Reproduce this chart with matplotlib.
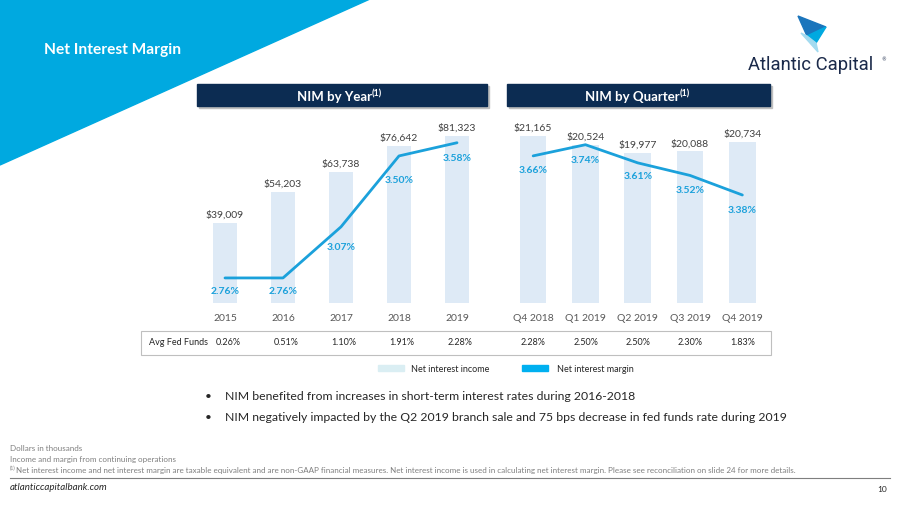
import matplotlib.pyplot as plt
from matplotlib.patches import Polygon, Rectangle

# data
years = ["2015", "2016", "2017", "2018", "2019"]
year_nii = [39009, 54203, 63738, 76642, 81323]
year_nim = [2.76, 2.76, 3.07, 3.50, 3.58]
quarters = ["Q4 2018", "Q1 2019", "Q2 2019", "Q3 2019", "Q4 2019"]
qtr_nii = [21165, 20524, 19977, 20088, 20734]
qtr_nim = [3.66, 3.74, 3.61, 3.52, 3.38]
fed_year = ["0.26%", "0.51%", "1.10%", "1.91%", "2.28%"]
fed_qtr = ["2.28%", "2.50%", "2.50%", "2.30%", "1.83%"]

W, H = 900, 506
plt.rcParams['font.family'] = ['Lato', 'DejaVu Sans']

bar_c = "#DEEAF6"
line_c = "#1BA1DB"
navy = "#0C2C52"
cyan = "#00A9E0"
txt = "#404040"


def fx(x):
    return x / W


def fy(y):
    return 1 - y / H


fig = plt.figure(figsize=(9, 5.06), dpi=100)

# background triangle
fig.patches.append(Polygon([(0, 1), (fx(370), 1), (0, fy(166))], closed=True,
                           transform=fig.transFigure, color=cyan, zorder=0))
fig.text(fx(44), fy(50), "Net Interest Margin", color="white", fontsize=11.2,
         fontweight="bold", va="center", ha="left")

# logo
logo = [
    ([(798, 17), (826, 28), (807, 37)], "#1B75BC"),
    ([(807, 37), (826, 28), (816, 44)], "#00A9E0"),
    ([(801, 34), (807, 37), (816, 44), (818, 53)], "#A3DBF0"),
]
for pts, c in logo:
    fig.patches.append(Polygon([(fx(a), fy(b)) for a, b in pts], closed=True,
                               transform=fig.transFigure, color=c))
fig.text(fx(748), fy(65), "Atlantic Capital", family=["Roboto", "DejaVu Sans"],
         fontsize=13.3, color="#1B2A4A", ha="left", va="center")
fig.text(fx(881), fy(60), "®", family="DejaVu Sans", fontsize=3.5, color="#1B2A4A",
         ha="left", va="center")

# header bars
for x0, x1, label, xs in [(197, 487, "NIM by Year", 372), (507, 770, "NIM by Quarter", 680)]:
    fig.patches.append(Rectangle((fx(x0 + 2), fy(109)), fx(x1 - x0), 22 / H,
                                 transform=fig.transFigure, color="#BFBFBF", zorder=1))
    fig.patches.append(Rectangle((fx(x0), fy(107)), fx(x1 - x0), 22 / H,
                                 transform=fig.transFigure, color=navy, zorder=2))
    fig.text(fx(xs), fy(97), label, color="white", fontsize=9.5, fontweight="bold",
             ha="right", va="center", zorder=3)
    fig.text(fx(xs), fy(94), "(1)", color="white", fontsize=6.5, fontweight="bold",
             ha="left", va="center", zorder=3)


def chart(left, width, cats, nii, nim, ylo, yhi, mlo, mhi, bw, pct_off):
    ax = fig.add_axes([fx(left), fy(304), fx(width), (304 - 120) / H])
    x = range(len(cats))
    ax.bar(x, nii, width=bw, color=bar_c, zorder=1)
    ax.set_xlim(-0.5, len(cats) - 0.5)
    ax.set_ylim(ylo, yhi)
    for i, v in enumerate(nii):
        ax.annotate(f"${v:,}", (i, v), xytext=(0, 3), textcoords="offset points",
                    ha="center", va="bottom", fontsize=7.5, color=txt)
    ax.set_xticks(list(x))
    ax.set_xticklabels(cats, fontsize=7.5, color="#595959")
    ax.tick_params(length=0, pad=7)
    ax.set_yticks([])
    for s in ax.spines.values():
        s.set_visible(False)
    ax2 = ax.twinx()
    ax2.plot(list(x), nim, color=line_c, lw=2, solid_capstyle="round", zorder=3)
    ax2.set_ylim(mlo, mhi)
    ax2.set_yticks([])
    for s in ax2.spines.values():
        s.set_visible(False)
    for i, v in enumerate(nim):
        ax2.annotate(f"{v:.2f}%", (i, v), xytext=(0, -pct_off[i] * 0.72),
                     textcoords="offset points", ha="center", va="center",
                     fontsize=7.5, fontweight="bold", color=line_c)
    ax.patch.set_alpha(0)
    return ax


chart(196, 290, years, year_nii, year_nim, 0, 89756, 2.608, 3.724, 0.43,
      [13, 13, 20, 24, 15])
chart(507, 261.5, quarters, qtr_nii, qtr_nim, 9675, 22312, 2.607, 3.924, 0.51,
      [14, 15, 13, 14, 14])

# fed funds table
fig.patches.append(Rectangle((fx(141), fy(356)), fx(771 - 141), 24 / H,
                             transform=fig.transFigure, fill=False, ec="#BFBFBF", lw=0.8))
fig.text(fx(149), fy(343), "Avg Fed Funds", fontsize=6.5, color="#262626", va="center")
for i, v in enumerate(fed_year):
    fig.text(fx(225 + 58 * i + 3), fy(343), v, fontsize=6.5, color="#262626",
             ha="center", va="center")
for i, v in enumerate(fed_qtr):
    fig.text(fx(533.3 + 52.3 * i), fy(343), v, fontsize=6.5, color="#262626",
             ha="center", va="center")

# legend
fig.patches.append(Rectangle((fx(378), fy(372)), fx(26), 6 / H,
                             transform=fig.transFigure, color="#DAEEF3"))
fig.text(fx(411), fy(369), "Net interest income", fontsize=6.5, color="#262626", va="center")
fig.patches.append(Rectangle((fx(522), fy(372)), fx(26), 6 / H,
                             transform=fig.transFigure, color="#00B0F0"))
fig.text(fx(557), fy(369), "Net interest margin", fontsize=6.5, color="#262626", va="center")

# bullets
bullets = [
    "NIM benefited from increases in short-term interest rates during 2016-2018",
    "NIM negatively impacted by the Q2 2019 branch sale and 75 bps decrease in fed funds rate during 2019",
]
for k, b in enumerate(bullets):
    y = 397 + 21 * k
    fig.text(fx(205), fy(y), "•", fontsize=8.5, color="#262626", va="center")
    fig.text(fx(225), fy(y), b, fontsize=8.85, color="#262626", va="center")

# footnotes
notes = [
    "Dollars in thousands",
    "Income and margin from continuing operations",
]
for k, n in enumerate(notes):
    fig.text(fx(10), fy(449 + 11 * k), n, fontsize=5.8, color="#7F7F7F", va="center")
fig.text(fx(10), fy(468.5), "(1)", fontsize=3.5, color="#7F7F7F", va="center")
fig.text(fx(16), fy(471), "Net interest income and net interest margin are taxable equivalent and are "
         "non-GAAP financial measures. Net interest income is used in calculating net interest "
         "margin. Please see reconciliation on slide 24 for more details.",
         fontsize=5.8, color="#7F7F7F", va="center")
fig.add_artist(plt.Line2D([fx(10), fx(890)], [fy(479), fy(479)], color="#7F7F7F", lw=0.8))
fig.text(fx(10), fy(488), "atlanticcapitalbank.com", fontsize=7, style="italic",
         color="#262626", va="center")
fig.text(fx(887), fy(490), "10", fontsize=6, color="#262626", va="center", ha="right")

fig.savefig("out.png", dpi=100)
